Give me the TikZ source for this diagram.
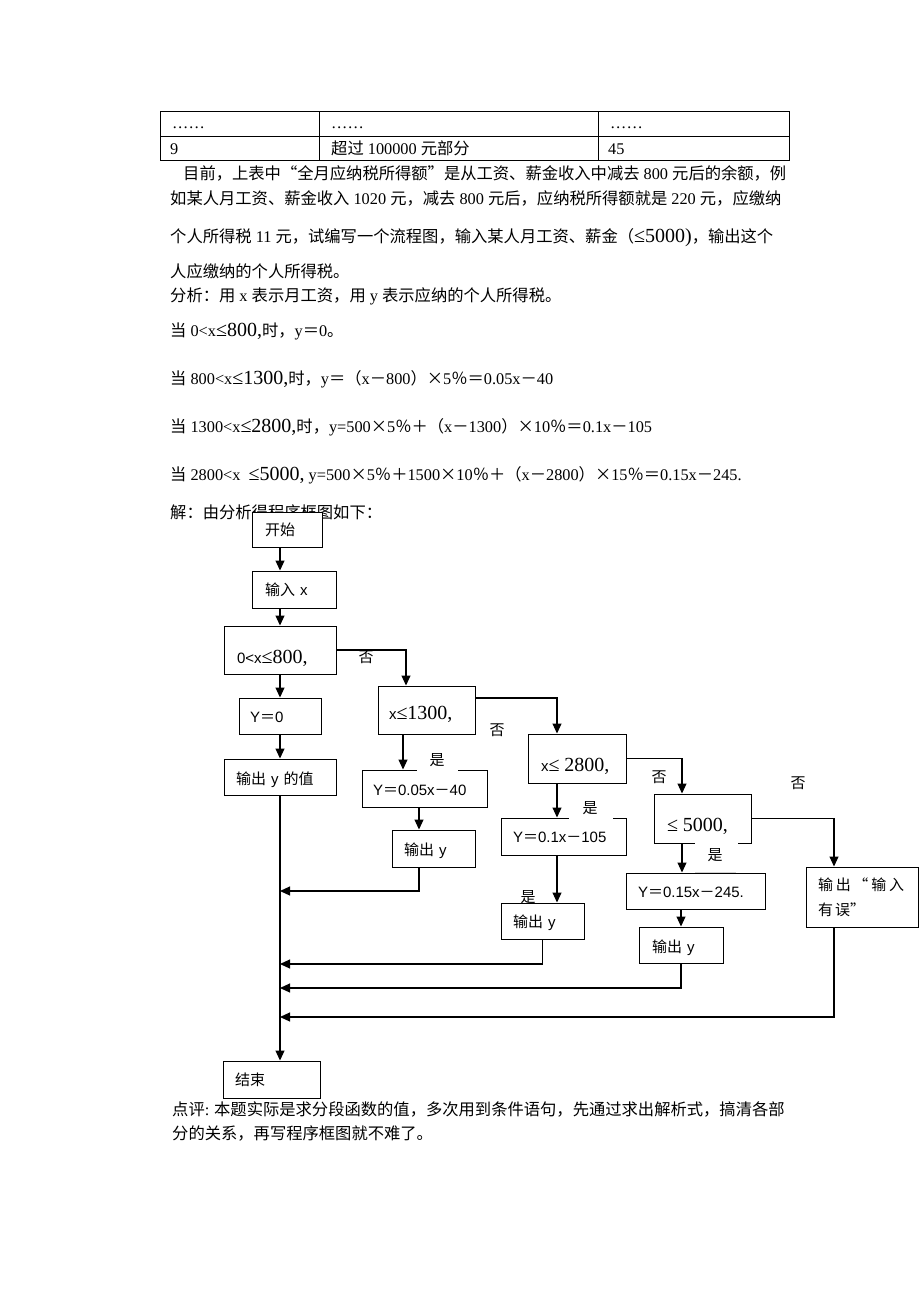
\documentclass[tikz,border=0pt]{standalone}
\usepackage{fontspec}
\setmainfont{Liberation Serif}
\newfontfamily\zhf{Noto Sans CJK SC}
\newfontfamily\arialf{Liberation Sans}
\usetikzlibrary{arrows.meta}
\newcommand\T[1]{{\rmfamily #1}}
\newcommand\BT[1]{{\fontsize{20}{20}\selectfont\rmfamily #1}}
\newcommand\A[1]{{\arialf #1}}
\tikzset{
  txt/.style={anchor=base west, inner sep=0pt, font=\zhf\fontsize{16.3}{19}\selectfont},
  box/.style={draw, line width=1pt, fill=white, inner ysep=0pt, align=left, font=\zhf\fontsize{15}{25}\selectfont},
  tb/.style={text height=#1, text depth=4pt},
  arr/.style={line width=1.1pt, -{Triangle[length=10pt,width=9pt]}},
  yn/.style={inner sep=0pt, font=\zhf\fontsize{15}{15}\selectfont},
  gapw/.style={white, line width=2.5pt},
  tline/.style={line width=0.8pt}
}
\begin{document}
\begin{tikzpicture}[x=1pt,y=-1pt]
\fill[white] (0,0) rectangle (920,1302);
\useasboundingbox (0,0) rectangle (920,1302);
% table
\draw[tline] (160,111) rectangle (789,160);
\draw[tline] (160,136) -- (789,136);
\draw[tline] (319,111) -- (319,160);
\draw[tline] (598,111) -- (598,160);
\node[txt] (t11) at (172,128) {\T{……}};
\node[txt] (t12) at (331,128) {\T{……}};
\node[txt] (t13) at (610,128) {\T{……}};
\node[txt] (t21) at (170,154) {\T{9}};
\node[txt] (t22) at (331,154) {超过\T{ 100000 }元部分};
\node[txt] (t23) at (608,154) {\T{45}};
% paragraph
\node[txt] (p1) at (183,179) {目前，上表中“全月应纳税所得额”是从工资、薪金收入中减去\T{ 800 }元后的余额，例};
\node[txt] (p2) at (170,204) {如某人月工资、薪金收入\T{ 1020 }元，减去\T{ 800 }元后，应纳税所得额就是\T{ 220 }元，应缴纳};
\node[txt] (p3) at (170,242) {个人所得税\T{ 11 }元，试编写一个流程图，输入某人月工资、薪金（\BT{≤5000)}，输出这个};
\node[txt] (p4) at (170,277) {人应缴纳的个人所得税。};
\node[txt] (p5) at (170,301) {分析：用\T{ x }表示月工资，用\T{ y }表示应纳的个人所得税。};
\node[txt] (p6) at (170,336) {当\T{ 0<x}\BT{≤800,}时，\T{y}＝\T{0}。};
\node[txt] (p7) at (170,384) {当\T{ 800<x}\BT{≤1300,}时，\T{y}＝（\T{x}－\T{800}）×\T{5}％＝\T{0.05x}－\T{40}};
\node[txt] (p8) at (170,432) {当\T{ 1300<x}\BT{≤2800,}时，\T{y=500}×\T{5}％＋（\T{x}－\T{1300}）×\T{10}％＝\T{0.1x}－\T{105}};
\node[txt] (p9) at (170,480) {当\T{ 2800<x\ \ }\BT{≤5000,}\T{ y=500}×\T{5}％＋\T{1500}×\T{10}％＋（\T{x}－\T{2800}）×\T{15}％＝\T{0.15x}－\T{245.}};
\node[txt] (p10) at (170,518) {解：由分析得程序框图如下：};
% flowchart boxes
\node[box, minimum width=70pt, minimum height=35pt, text width=44pt, inner xsep=13pt, tb=16.4pt] (start) at (287,529.5) {开始};
\node[box, minimum width=84pt, minimum height=37pt, text width=58pt, inner xsep=13pt, tb=16.4pt] (inp) at (294,589.5) {输入\A{ x}};
\node[box, minimum width=112pt, minimum height=48pt, text width=86pt, inner xsep=13pt, tb=31.4pt] (d1) at (280,650) {\A{0<x}\BT{≤800,}};
\node[box, minimum width=82pt, minimum height=36pt, text width=60pt, inner xsep=11pt, tb=17.4pt] (y0) at (280,716) {\A{Y}＝\A{0}};
\node[box, minimum width=112pt, minimum height=36pt, text width=88pt, inner xsep=12pt, tb=19.4pt] (out0) at (280,777) {输出\A{ y }的值};
\node[box, minimum width=97pt, minimum height=48pt, text width=75pt, inner xsep=11pt, tb=23.5pt] (d2) at (426.5,710) {\A{x}\BT{≤1300,}};
\node[box, minimum width=125pt, minimum height=37pt, text width=103pt, inner xsep=11pt, tb=18pt] (b1) at (424.5,788.5) {\A{Y}＝\A{0.05x}－\A{40}};
\node[box, minimum width=83pt, minimum height=37pt, text width=59pt, inner xsep=12pt, tb=18.4pt] (o1) at (433.5,848.5) {输出\A{ y}};
\node[box, minimum width=98pt, minimum height=49pt, text width=72pt, inner xsep=13pt, tb=30.5pt] (d3) at (577,758.5) {\A{x}\BT{≤ 2800,}};
\node[box, minimum width=125pt, minimum height=37pt, text width=101pt, inner xsep=12pt, tb=16pt] (b2) at (563.5,836.5) {\A{Y}＝\A{0.1x}－\A{105}};
\node[box, minimum width=83pt, minimum height=36pt, text width=59pt, inner xsep=12pt, tb=17.4pt] (o2) at (542.5,921) {输出\A{ y}};
\node[box, minimum width=97pt, minimum height=49pt, text width=71pt, inner xsep=13pt, tb=30.5pt] (d4) at (702.5,818.5) {\BT{≤ 5000,}};
\node[box, minimum width=139pt, minimum height=36pt, text width=115pt, inner xsep=12pt, tb=17pt] (b3) at (695.5,891) {\A{Y}＝\A{0.15x}－\A{245.}};
\node[box, minimum width=84pt, minimum height=36pt, text width=58pt, inner xsep=13pt, tb=19.4pt] (o3) at (681,945) {输出\A{ y}};
\node[box, minimum width=112pt, minimum height=60pt, text width=88pt, inner xsep=12pt] (err) at (862,897) {\makebox[86pt][s]{输\hfil 出\hfil “\hfil 输\hfil 入}\\有\kern2pt 误”};
\node[box, minimum width=97pt, minimum height=37pt, text width=73pt, inner xsep=12pt, tb=16.4pt] (end) at (271.5,1079.5) {结束};
% gaps in borders
\draw[gapw] ([xshift=-7.5pt]b1.north) -- ([xshift=33.5pt]b1.north);
\draw[gapw] ([xshift=5.5pt]b2.north) -- ([xshift=49.5pt]b2.north);
\draw[gapw] ([xshift=-7.5pt]d4.south) -- ([xshift=35.5pt]d4.south);
\draw[gray!35, line width=1pt] ([xshift=-0.5pt]b3.north) -- ([xshift=40.5pt]b3.north);
% yes/no labels
\node[yn] (n1) at (366,657) {否};
\node[yn] (n2) at (497,730) {否};
\node[yn] (n3) at (659,777) {否};
\node[yn] (n4) at (798,783) {否};
\node[yn] (s1) at (437,760) {是};
\node[yn] (s2) at (590,808) {是};
\node[yn] (s3) at (528,897) {是};
\node[yn] (s4) at (715,855) {是};
% join points on the main line
\coordinate (j1) at (280,891);
\coordinate (j2) at (280,964);
\coordinate (j3) at (280,988);
\coordinate (j4) at (280,1017);
% connectors
\draw[arr] (d1.north |- start.south) -- (d1.north |- inp.north);
\draw[arr] (d1.north |- inp.south) -- (d1.north);
\draw[arr] (d1.south) -- (y0.north);
\draw[arr] (y0.south) -- (out0.north);
\draw[arr] (d1.east) -| ([xshift=-20.5pt]d2.north);
\draw[arr] ([xshift=-23.5pt]d2.south) -- ([xshift=-23.5pt]d2.south |- b1.north);
\draw[arr] ([xshift=-5.5pt]b1.south) -- ([xshift=-5.5pt]b1.south |- o1.north);
\draw[arr] ([xshift=-14.5pt]o1.south) |- (j1);
\draw[arr] ([yshift=12pt]d2.east) -| ([xshift=-20pt]d3.north);
\draw[arr] ([xshift=-20pt]d3.south) -- ([xshift=-20pt]d3.south |- b2.north);
\draw[arr] ([xshift=-6.5pt]b2.south) -- ([xshift=-6.5pt]b2.south |- o2.north);
\draw[arr] (o2.south) |- (j2);
\draw[arr] (d3.east) -| ([xshift=-20.5pt]d4.north);
\draw[arr] ([xshift=-20.5pt]d4.south) -- ([xshift=-20.5pt]d4.south |- b3.north);
\draw[arr] (o3.north |- b3.south) -- (o3.north);
\draw[arr] (o3.south) |- (j3);
\draw[arr] (d4.east) -| ([xshift=-28pt]err.north);
\draw[arr] ([xshift=-28pt]err.south) |- (j4);
\draw[arr] (out0.south) -- (out0.south |- end.north);
% comment
\node[txt] (c1) at (172,1115) {点评\T{:} 本题实际是求分段函数的值，多次用到条件语句，先通过求出解析式，搞清各部};
\node[txt] (c2) at (172,1139) {分的关系，再写程序框图就不难了。};
\end{tikzpicture}
\end{document}
